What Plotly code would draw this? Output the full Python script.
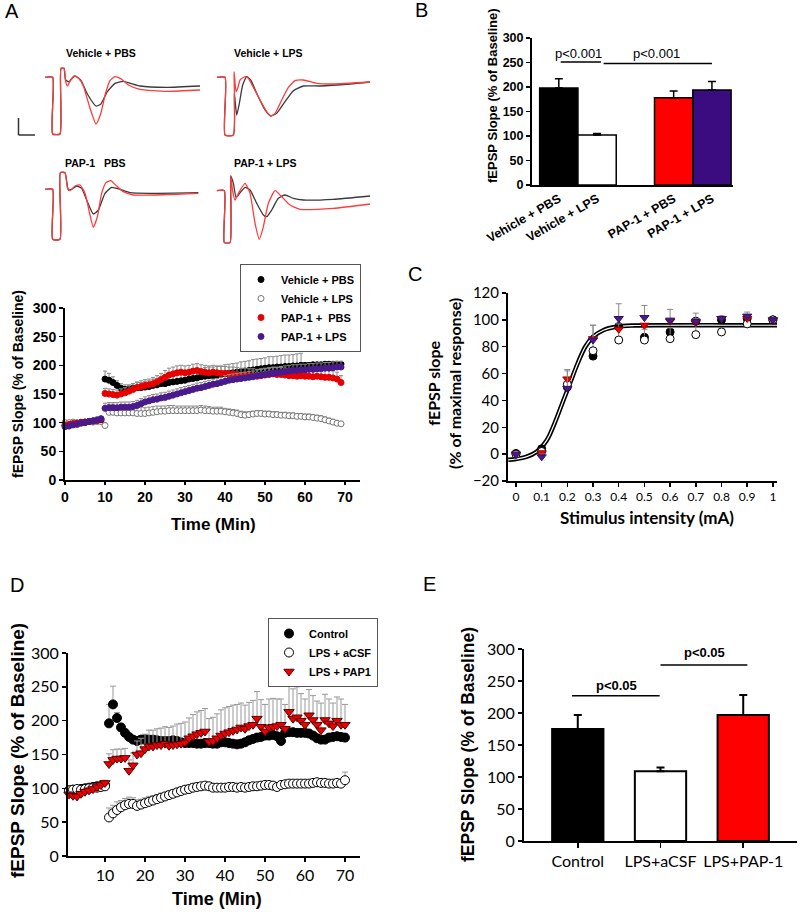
import plotly.graph_objects as go

W, H = 800, 912
ARIAL = "Liberation Sans, Arial, sans-serif"
CALIBRI = "Lato, Carlito, sans-serif"
NB = "\u00a0"

def fx(p):
    return p / W

def fy(p):
    return 1 - p / H

# ---------------- DATA ----------------
# Panel A: example fEPSP traces (time in ms, amplitude in mV); red = post-LTP, black = baseline
trace_titles = ["Vehicle + PBS", "Vehicle + LPS", "PAP-1" + NB + NB + " PBS", "PAP-1 + LPS"]
p1_red_t = [0, 1.53, 1.53, 3.0, 3.2, 3.8, 4.13, 4.47, 5.13, 5.93, 6.73, 7.67, 8.87, 10.2, 11.13, 12.07, 13.0, 14.0, 15.13, 16.67, 19.0, 24.33, 31.0]
p1_red_v = [0, 0, -1.7, -1.7, 0.27, 0.27, -0.13, -0.26, -0.08, 0.04, -0.03, -0.26, -0.86, -1.4, -1.1, -0.5, -0.1, 0.02, -0.04, -0.23, -0.36, -0.42, -0.38]
p1_blk_t = [0, 1.53, 1.53, 3.0, 3.2, 3.8, 4.13, 4.8, 5.93, 7.13, 8.47, 10.2, 11.13, 12.47, 14.0, 15.67, 19.0, 24.33, 31.0]
p1_blk_v = [0, 0, -1.7, -1.7, 0.27, 0.27, -0.08, -0.13, 0.04, -0.08, -0.5, -0.86, -0.81, -0.43, -0.18, -0.12, -0.26, -0.3, -0.26]
p2_red_t = [0, 1.67, 1.67, 3.33, 3.47, 3.87, 4.2, 4.67, 5.67, 6.33, 7.33, 8.67, 10.0, 10.8, 11.67, 13.0, 14.33, 15.67, 17.33, 20.0, 23.33, 30.67]
p2_red_v = [0, 0, -1.73, -1.73, 0.17, -0.43, -0.33, -0.08, 0.02, -0.03, -0.3, -0.68, -1.03, -1.16, -1.08, -0.68, -0.3, -0.1, -0.08, -0.18, -0.2, -0.14]
p2_blk_t = [0, 1.67, 1.67, 3.33, 3.53, 4.0, 4.53, 5.2, 6.0, 6.8, 8.0, 9.67, 10.8, 12.0, 13.67, 15.33, 17.33, 20.67, 26.67, 30.67]
p2_blk_v = [0, 0, -1.73, -1.73, -0.48, -1.13, -0.78, -0.23, 0.02, -0.08, -0.48, -0.98, -1.16, -1.08, -0.73, -0.4, -0.26, -0.26, -0.2, -0.14]
p3_red_t = [0, 1.53, 1.53, 3.0, 3.07, 4.0, 4.47, 5.0, 6.0, 7.0, 8.0, 9.0, 9.67, 10.47, 11.33, 12.2, 13.13, 14.33, 15.67, 17.67, 24.33, 30.67]
p3_red_v = [0, 0, -1.5, -1.5, 0.5, 0.5, 0.06, -0.04, 0.1, 0.13, -0.12, -0.77, -1.14, -0.82, -0.12, 0.2, 0.26, 0.1, -0.07, -0.17, -0.16, -0.12]
p3_blk_t = [0, 1.53, 1.53, 3.0, 3.07, 4.0, 4.67, 5.33, 6.33, 7.33, 8.33, 9.67, 10.67, 12.0, 13.33, 15.0, 17.0, 21.0, 30.67]
p3_blk_v = [0, 0, -1.5, -1.5, 0.5, 0.5, -0.02, 0, 0.1, 0.03, -0.32, -0.74, -0.62, -0.12, 0.06, 0, -0.1, -0.12, -0.1]
p4_red_t = [0, 1.53, 1.53, 2.67, 2.8, 3.2, 3.67, 4.33, 5.67, 6.67, 7.67, 8.53, 9.33, 10.33, 11.67, 13.0, 14.67, 16.67, 23.33, 30.67]
p4_red_v = [0, 0, -1.56, -1.56, 0.44, -0.03, -0.28, -0.08, 0.22, -0.08, -0.98, -1.46, -1.08, -0.38, 0, -0.18, -0.43, -0.56, -0.53, -0.4]
p4_blk_t = [0, 1.53, 1.53, 2.67, 2.8, 3.33, 3.87, 4.33, 5.67, 6.67, 8.0, 9.33, 10.0, 11.0, 12.33, 13.67, 15.33, 17.33, 23.33, 30.67]
p4_blk_v = [0, 0, -1.56, -1.56, 0.44, 0.22, -0.2, -0.13, 0.1, 0.02, -0.38, -0.73, -0.78, -0.58, -0.23, -0.13, -0.23, -0.28, -0.26, -0.16]

# Panel B: mean LTP
b_groups = ["Vehicle + PBS", "Vehicle + LPS", "PAP-1 + PBS", "PAP-1 + LPS"]
b_pos = [0, 1, 3, 4]
b_values = [198, 102, 178, 194]
b_errors = [19, 3, 14, 17]

# Panel A (bottom): LTP time course, minutes 0..69
time_a = list(range(70))
veh_pbs = [95, 96, 98, 99, 100, 101, 102, 103, 104, 105,
           176, 174, 170, 165, 160, 158, 158, 160, 161, 161,
           162, 163, 165, 166, 168, 168, 170, 171, 172, 173,
           174, 176, 177, 178, 180, 181, 182, 182, 183, 184,
           185, 186, 187, 188, 189, 190, 191, 192, 193, 194,
           195, 196, 196, 197, 197, 198, 198, 199, 199, 200,
           200, 200, 201, 201, 201, 202, 202, 202, 202, 202]
veh_pbs_err = [3, 3, 3, 3, 3, 3, 3, 3, 3, 3,
               14, 12, 10, 8, 8, 8, 8, 8, 9, 9,
               10, 10, 11, 11, 12, 12, 12, 12, 13, 13,
               13, 13, 14, 14, 14, 15, 15, 15, 15, 15,
               16, 16, 16, 16, 17, 17, 17, 18, 18, 18,
               18, 19, 19, 19, 20, 20, 20, 20, 21, 21]
veh_lps = [100, 100, 101, 100, 101, 101, 102, 101, 102, 102,
           95, 118, 118, 117, 117, 117, 117, 117, 116, 116,
           116, 117, 118, 119, 120, 120, 121, 121, 121, 121,
           121, 121, 121, 121, 122, 121, 121, 120, 120, 120,
           119, 118, 117, 116, 114, 113, 114, 115, 116, 116,
           115, 115, 114, 114, 113, 113, 112, 112, 111, 111,
           110, 110, 109, 108, 107, 105, 103, 101, 99, 98]
veh_lps_err = [3, 3, 3, 3, 3, 3, 3, 3, 3, 3,
               5, 14, 14, 13, 13, 12, 12, 12, 11, 11,
               10, 10, 10, 10, 9, 9, 9, 9, 8, 8,
               8, 8, 8, 8, 8, 8, 7, 7, 7, 7,
               6, 6, 6, 6, 6, 6, 5, 5, 5, 5,
               5, 5, 5, 5, 5, 5, 5, 5, 5, 5,
               5, 5, 5, 5, 5, 5, 5, 5, 5, 4]
pap_pbs = [96, 97, 98, 99, 100, 101, 102, 103, 104, 106,
           151, 150, 149, 148, 150, 152, 155, 158, 161, 163,
           165, 166, 168, 171, 175, 179, 183, 185, 187, 188,
           187, 188, 190, 191, 189, 188, 187, 188, 187, 186,
           186, 185, 185, 184, 183, 183, 182, 182, 181, 182,
           183, 184, 185, 184, 184, 183, 182, 182, 181, 182,
           181, 181, 180, 181, 180, 179, 179, 178, 176, 170]
pap_pbs_err = [3, 3, 3, 3, 3, 3, 3, 3, 3, 3,
               9, 9, 9, 9, 9, 9, 10, 10, 10, 10,
               10, 10, 11, 11, 11, 12, 12, 12, 12, 12,
               12, 12, 12, 12, 12, 12, 12, 12, 12, 12,
               12, 12, 12, 12, 12, 12, 12, 12, 12, 12,
               12, 12, 12, 12, 12, 12, 12, 12, 12, 12,
               12, 12, 12, 12, 12, 12, 12, 12, 12, 12]
pap_lps = [93, 94, 96, 97, 99, 100, 102, 103, 105, 107,
           125, 126, 126, 126, 127, 127, 127, 128, 130, 133,
           136, 138, 140, 141, 143, 144, 146, 148, 150, 152,
           154, 156, 158, 160, 161, 163, 165, 167, 168, 170,
           172, 174, 175, 176, 177, 178, 179, 180, 182, 183,
           184, 185, 186, 187, 188, 189, 190, 191, 191, 192,
           192, 193, 193, 194, 194, 195, 195, 196, 197, 197]
pap_lps_err = [2, 2, 2, 2, 2, 2, 2, 2, 2, 2,
               9, 9, 9, 9, 9, 9, 9, 9, 9, 9,
               9, 9, 9, 9, 9, 9, 9, 9, 9, 9,
               9, 9, 9, 9, 9, 9, 9, 9, 9, 9,
               10, 10, 10, 10, 10, 10, 10, 10, 10, 10,
               10, 10, 10, 10, 10, 10, 10, 10, 10, 10,
               10, 10, 10, 10, 10, 10, 10, 10, 10, 10]

# Panel C: input-output curves
stim = [0, 0.1, 0.2, 0.3, 0.4, 0.5, 0.6, 0.7, 0.8, 0.9, 1.0]
stim_ticks = ["0", "0.1", "0.2", "0.3", "0.4", "0.5", "0.6", "0.7", "0.8", "0.9", "1"]
io_veh_pbs = [0.5, 4, 50, 73, 95, 87, 91, 99, 100, 101, 100]
io_veh_lps = [0, 2, 52, 77, 85, 85, 86, 89, 91, 97, 100]
io_pap_pbs = [0, 1, 56, 86, 93, 96, 99, 98, 101, 101, 100]
io_pap_lps = [0, -2, 49, 85, 101, 101.7, 99.8, 99, 101, 102.8, 100]
io_pap_lps_err = [1, 2, 14, 11, 11, 9, 8, 6, 2, 3, 1]
io_veh_lps_err = [1, 1, 10, 19, 12, 8, 8, 12, 2, 2, 1]
fit_x = [-0.03, 0, 0.04, 0.08, 0.12, 0.15, 0.18, 0.21, 0.24, 0.27, 0.30, 0.34, 0.39, 0.46, 0.6, 0.8, 1.02]
fit_y = [-4.2, -3.6, -2, 1.7, 10.4, 22.8, 37.7, 52.6, 67.5, 80, 87.4, 92.3, 94.8, 95.8, 96, 96, 96]

# Panel D: LTP time course, minutes 1..70
time_d = list(range(1, 71))
ctrl = [97, 98, 97, 99, 100, 101, 102, 103, 104, 105,
        196, 224, 204, 190, 182, 176, 172, 170, 172, 173,
        172, 172, 171, 170, 170, 170, 171, 170, 168, 167,
        167, 167, 166, 166, 167, 167, 166, 166, 168, 168,
        167, 166, 165, 166, 168, 171, 173, 175, 176, 178,
        178, 179, 177, 170, 182, 183, 183, 182, 182, 182,
        181, 178, 174, 172, 172, 175, 176, 177, 176, 175]
ctrl_err = [4, 4, 4, 4, 4, 4, 4, 4, 4, 4,
            28, 27, 8, 6, 5, 5, 5, 5, 5, 5,
            5, 5, 5, 5, 5, 5, 5, 5, 5, 5,
            5, 5, 5, 5, 5, 5, 5, 5, 5, 5,
            5, 5, 5, 5, 5, 5, 5, 5, 5, 5,
            5, 5, 5, 5, 5, 5, 5, 5, 5, 5,
            5, 5, 5, 5, 5, 5, 5, 5, 5, 5]
lps_acsf = [97, 98, 99, 98, 99, 100, 101, 101, 102, 103,
            57, 63, 68, 72, 75, 77, 77, 74, 76, 78,
            80, 82, 84, 86, 88, 90, 92, 94, 96, 98,
            99, 101, 102, 103, 104, 103, 101, 101, 101, 101,
            102, 102, 101, 102, 101, 102, 103, 103, 104, 105,
            105, 104, 102, 105, 106, 107, 107, 107, 107, 107,
            107, 108, 109, 108, 108, 107, 107, 108, 107, 112]
lps_acsf_err = [3, 3, 3, 3, 3, 3, 3, 3, 3, 3,
                14, 12, 12, 10, 10, 10, 9, 9, 8, 8,
                8, 7, 7, 7, 6, 6, 6, 6, 6, 6,
                6, 6, 6, 5, 5, 5, 5, 5, 5, 5,
                5, 5, 5, 5, 5, 5, 5, 5, 5, 5,
                5, 5, 5, 5, 5, 5, 5, 5, 5, 5,
                5, 5, 5, 5, 5, 5, 5, 5, 5, 12]
lps_pap1 = [91, 89, 88, 92, 95, 97, 99, 102, 105, 108,
            136, 142, 144, 144, 145, 126, 134, 150, 152, 158,
            162, 162, 164, 164, 166, 163, 164, 165, 166, 168,
            174, 177, 180, 182, 184, 169, 170, 174, 178, 181,
            183, 185, 187, 190, 188, 192, 194, 203, 191, 184,
            190, 191, 192, 194, 188, 213, 203, 205, 200, 194,
            208, 201, 194, 186, 201, 196, 192, 200, 194, 194]
lps_pap1_err = [4, 4, 4, 4, 4, 4, 4, 4, 4, 4,
                15, 15, 14, 14, 14, 16, 18, 20, 22, 22,
                24, 24, 24, 25, 25, 27, 28, 30, 30, 30,
                30, 32, 33, 33, 34, 34, 35, 36, 38, 38,
                38, 38, 37, 36, 35, 35, 36, 40, 40, 40,
                42, 42, 40, 38, 36, 42, 44, 45, 40, 38,
                38, 36, 35, 40, 38, 36, 34, 35, 38, 30]

# Panel E: mean LTP
e_groups = ["Control", "LPS+aCSF", "LPS+PAP-1"]
e_pos = [0, 1, 2]
e_values = [175, 109, 197]
e_errors = [22, 6, 31]

# ---------------- FIGURE ----------------
fig = go.Figure()
zero = lambda n: [0] * n

# Panel A traces
trace_sets = [(p1_red_t, p1_red_v, p1_blk_t, p1_blk_v),
              (p2_red_t, p2_red_v, p2_blk_t, p2_blk_v),
              (p3_red_t, p3_red_v, p3_blk_t, p3_blk_v),
              (p4_red_t, p4_red_v, p4_blk_t, p4_blk_v)]
for i, (rt, rv, bt, bv) in enumerate(trace_sets, start=1):
    sfx = "" if i == 1 else str(i)
    fig.add_trace(go.Scatter(x=bt, y=bv, mode="lines", xaxis="x" + sfx, yaxis="y" + sfx,
                             line=dict(color="#3a3a3a", width=1.3, shape="spline", smoothing=0.5),
                             showlegend=False, hoverinfo="skip"))
    fig.add_trace(go.Scatter(x=rt, y=rv, mode="lines", xaxis="x" + sfx, yaxis="y" + sfx,
                             line=dict(color="#ff3b3b", width=1.3, shape="spline", smoothing=0.5),
                             showlegend=False, hoverinfo="skip"))

# Panel B bars
fig.add_trace(go.Bar(x=b_pos, y=b_values, width=1.0, xaxis="x5", yaxis="y5",
                     marker=dict(color=["black", "white", "#ff0000", "#3b0c80"],
                                 line=dict(color="black", width=1.5)),
                     error_y=dict(type="data", array=b_errors, arrayminus=zero(4), symmetric=False,
                                  color="black", thickness=1.5, width=4),
                     showlegend=False))

# Panel A time course
def tc(name, y, err, color, edge, rank):
    return go.Scatter(x=time_a, y=y, name=name, mode="markers", xaxis="x6", yaxis="y6",
                      marker=dict(size=6, color=color, line=dict(color=edge, width=1)),
                      error_y=dict(type="data", array=err, arrayminus=zero(len(err)), symmetric=False,
                                   color="#8a8a8a", thickness=1, width=2),
                      cliponaxis=False, legend="legend", legendrank=rank)

fig.add_trace(tc("Vehicle + LPS", veh_lps, veh_lps_err, "white", "#777777", 2))
fig.add_trace(tc("Vehicle + PBS", veh_pbs, veh_pbs_err, "black", "black", 1))
fig.add_trace(tc("PAP-1 +" + NB + NB + "PBS", pap_pbs, pap_pbs_err, "#e60000", "#e60000", 3))
fig.add_trace(tc("PAP-1 + LPS", pap_lps, pap_lps_err, "#4a1a8c", "#4a1a8c", 4))

# Panel C
fig.add_trace(go.Scatter(x=fit_x, y=fit_y, mode="lines", xaxis="x7", yaxis="y7",
                         line=dict(color="black", width=4.5, shape="spline"), showlegend=False))
fig.add_trace(go.Scatter(x=fit_x, y=fit_y, mode="lines", xaxis="x7", yaxis="y7",
                         line=dict(color="white", width=1.2, shape="spline"), showlegend=False))
def io(y, sym, color, edge, err=None):
    kw = {}
    if err is not None:
        kw["error_y"] = dict(type="data", array=err, arrayminus=zero(len(err)), symmetric=False,
                             color="#8a8a8a", thickness=1, width=3)
    return go.Scatter(x=stim, y=y, mode="markers", xaxis="x7", yaxis="y7", cliponaxis=False,
                      marker=dict(symbol=sym, size=8, color=color, line=dict(color=edge, width=1)),
                      showlegend=False, **kw)
fig.add_trace(io(io_veh_pbs, "circle", "black", "black"))
fig.add_trace(io(io_veh_lps, "circle", "white", "black", io_veh_lps_err))
fig.add_trace(io(io_pap_pbs, "triangle-down", "#ee0000", "#990000"))
fig.add_trace(io(io_pap_lps, "triangle-down", "#4a1a8c", "#30105e", io_pap_lps_err))

# Panel D
def td(name, y, err, sym, color, edge):
    return go.Scatter(x=time_d, y=y, name=name, mode="markers", xaxis="x8", yaxis="y8",
                      marker=dict(symbol=sym, size=9, color=color, line=dict(color=edge, width=1)),
                      error_y=dict(type="data", array=err, arrayminus=zero(len(err)), symmetric=False,
                                   color="#999999", thickness=1, width=3),
                      cliponaxis=False, legend="legend2")
fig.add_trace(td("Control", ctrl, ctrl_err, "circle", "black", "black"))
fig.add_trace(td("LPS + aCSF", lps_acsf, lps_acsf_err, "circle", "white", "black"))
fig.add_trace(td("LPS + PAP1", lps_pap1, lps_pap1_err, "triangle-down", "#ee0000", "#550000"))

# Panel E bars
fig.add_trace(go.Bar(x=e_pos, y=e_values, width=0.62, xaxis="x9", yaxis="y9",
                     marker=dict(color=["black", "white", "#ff0000"], line=dict(color="black", width=2)),
                     error_y=dict(type="data", array=e_errors, arrayminus=zero(3), symmetric=False,
                                  color="black", thickness=2, width=4),
                     showlegend=False))

# ---------------- LAYOUT ----------------
def axis(domain, rng, anchor, **kw):
    d = dict(domain=domain, range=rng, anchor=anchor, showline=True, linecolor="black", linewidth=2,
             ticks="outside", ticklen=4, tickwidth=1.5, tickcolor="black", showgrid=False,
             zeroline=False, fixedrange=True, automargin=False, tickangle=0)
    d.update(kw)
    return d

layout = dict(width=W, height=H, margin=dict(l=0, r=0, t=0, b=0, pad=0, autoexpand=False),
              paper_bgcolor="white", plot_bgcolor="rgba(0,0,0,0)", showlegend=True, barmode="overlay",
              font=dict(family=ARIAL, color="black"))

PX_MS, PX_MV = 5.0, 33.33
origins = [(45, 77.33), (216.7, 77.33), (45, 189.33), (216.7, 190.67)]
for i, (x0, y0) in enumerate(origins, start=1):
    sfx = "" if i == 1 else str(i)
    layout["xaxis" + sfx] = dict(domain=[fx(x0), fx(x0 + 160)], range=[0, 160 / PX_MS], visible=False,
                                 anchor="y" + sfx, fixedrange=True, automargin=False)
    layout["yaxis" + sfx] = dict(domain=[fy(y0 + 65), fy(y0 - 20)], range=[-65 / PX_MV, 20 / PX_MV],
                                 visible=False, anchor="x" + sfx, fixedrange=True, automargin=False)

bold = lambda fam, s: dict(family=fam, size=s, color="black", weight="bold")
reg = lambda fam, s: dict(family=fam, size=s, color="black")

layout["xaxis5"] = axis([fx(532), fx(733)], [-0.7, 4.55], "y5", tickmode="array", tickvals=b_pos,
                        ticktext=b_groups, ticks="", tickangle=-30, tickfont=bold(ARIAL, 12.5))
layout["yaxis5"] = axis([fy(185), fy(38)], [0, 300], "x5", dtick=50, tickfont=bold(ARIAL, 12.5))
layout["xaxis6"] = axis([fx(65), fx(360)], [0, 73.75], "y6", tickmode="array",
                        tickvals=[0, 10, 20, 30, 40, 50, 60, 70], ticklen=3, tickfont=bold(ARIAL, 14))
layout["yaxis6"] = axis([fy(480), fy(308)], [0, 300], "x6", dtick=50, tickfont=bold(ARIAL, 14))
layout["xaxis7"] = axis([fx(508), fx(777)], [-0.031, 1.016], "y7", tickmode="array", tickvals=stim,
                        ticktext=stim_ticks, tickfont=reg(CALIBRI, 12))
layout["yaxis7"] = axis([fy(481), fy(293)], [-20, 120], "x7", dtick=20, tickfont=reg(CALIBRI, 15))
layout["xaxis8"] = axis([fx(68), fx(360)], [0.75, 73.75], "y8", tickmode="array",
                        tickvals=[10, 20, 30, 40, 50, 60, 70], tickfont=reg(CALIBRI, 16))
layout["yaxis8"] = axis([fy(856), fy(653)], [0, 300], "x8", dtick=50, tickfont=reg(CALIBRI, 16))
layout["xaxis9"] = axis([fx(524), fx(797)], [-0.65, 2.65], "y9", tickmode="array", tickvals=e_pos,
                        ticktext=e_groups, ticklen=5, tickfont=reg(CALIBRI, 16))
layout["yaxis9"] = axis([fy(841), fy(649)], [0, 300], "x9", dtick=50, tickfont=reg(CALIBRI, 16))

layout["legend"] = dict(x=fx(240), y=fy(264), xanchor="left", yanchor="top", bgcolor="white",
                        bordercolor="#555555", borderwidth=1, font=bold(ARIAL, 11), tracegroupgap=0)
layout["legend2"] = dict(x=fx(268), y=fy(618), xanchor="left", yanchor="top", bgcolor="white",
                         bordercolor="#555555", borderwidth=1, font=bold(ARIAL, 11), tracegroupgap=0)

# Annotations
ann = []
def note(text, x, y, font, angle=0, xanchor="center"):
    ann.append(dict(text=text, x=fx(x), y=fy(y), xref="paper", yref="paper", showarrow=False,
                    font=font, textangle=angle, xanchor=xanchor, yanchor="middle"))

for letter, (x, y) in zip("ABCDE", [(12, 11), (421, 10), (415, 274), (17, 585), (429, 584)]):
    note(letter, x, y, reg(ARIAL, 20))
for title, (x, y) in zip(trace_titles, [(101, 53), (268, 53), (95, 163), (265, 163)]):
    note(title, x, y, bold(ARIAL, 10.5))

note("fEPSP Slope (% of Baseline)", 492, 96, bold(ARIAL, 13), -90)
note("fEPSP Slope (% of Baseline)", 18, 384, bold(ARIAL, 14), -90)
note("Time (Min)", 213, 524, bold(ARIAL, 17))
note("fEPSP slope<br>(% of maximal response)", 444, 384, bold(CALIBRI, 16), -90)
note("Stimulus intensity (mA)", 647, 517, bold(CALIBRI, 17))
note("fEPSP Slope (% of Baseline)", 17, 751, bold(ARIAL, 19), -90)
note("Time (Min)", 217, 899, bold(ARIAL, 18))
note("fEPSP Slope (% of Baseline)", 468, 745, bold(ARIAL, 17.5), -90)

# significance marks (data coordinates)
ann.append(dict(text="p<0.001", x=0.52, y=269, xref="x5", yref="y5", showarrow=False,
                font=reg(ARIAL, 13)))
ann.append(dict(text="p<0.001", x=2.56, y=269, xref="x5", yref="y5", showarrow=False,
                font=reg(ARIAL, 13)))
ann.append(dict(text="p<0.05", x=0.47, y=243, xref="x9", yref="y9", showarrow=False,
                font=bold(ARIAL, 13)))
ann.append(dict(text="p<0.05", x=1.53, y=294, xref="x9", yref="y9", showarrow=False,
                font=bold(ARIAL, 13)))
layout["annotations"] = ann

shapes = [
    dict(type="line", xref="x5", yref="y5", x0=0.05, x1=1.1, y0=251, y1=251, line=dict(color="black", width=1.5)),
    dict(type="line", xref="x5", yref="y5", x0=1.17, x1=4.0, y0=248, y1=248, line=dict(color="black", width=1.5)),
    dict(type="line", xref="x9", yref="y9", x0=-0.07, x1=0.99, y0=227, y1=227, line=dict(color="black", width=1.5)),
    dict(type="line", xref="x9", yref="y9", x0=1.0, x1=2.05, y0=275, y1=275, line=dict(color="black", width=1.5)),
    # scale bar for traces
    dict(type="line", xref="paper", yref="paper", x0=fx(18.5), x1=fx(18.5), y0=fy(118), y1=fy(135),
         line=dict(color="#333333", width=1.5)),
    dict(type="line", xref="paper", yref="paper", x0=fx(18.5), x1=fx(35), y0=fy(135), y1=fy(135),
         line=dict(color="#333333", width=1.5)),
]
layout["shapes"] = shapes

fig.update_layout(**layout)
fig.write_html("out.html", config={"displayModeBar": False, "staticPlot": True},
               post_script="document.body.style.margin='0px';document.body.style.overflow='hidden';")
